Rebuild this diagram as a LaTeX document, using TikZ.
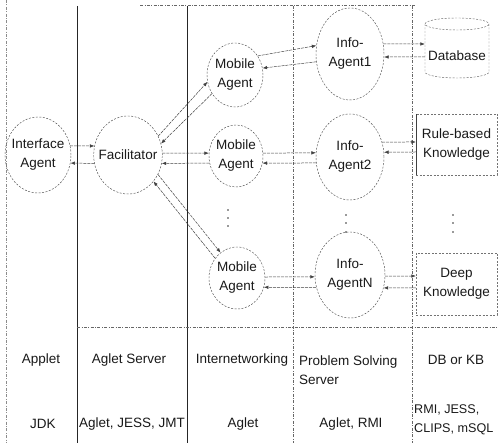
\documentclass[tikz,border=0pt]{standalone}
\usepackage{fontspec}
\setmainfont{Liberation Sans}
\usetikzlibrary{shapes.geometric,arrows.meta,calc}
\begin{document}
\begin{tikzpicture}[x=1pt,y=1pt,
  every node/.style={font=\fontsize{13.5}{19}\selectfont, text=black!90},
  agent/.style={ellipse, draw=black!70, line width=0.45pt, dash pattern=on 2pt off 1.5pt, inner xsep=-5pt, inner ysep=0pt, align=center},
  kbox/.style={rectangle, draw=black!55, line width=0.45pt, dash pattern=on 2pt off 1.5pt, inner sep=0pt, align=center, minimum width=81pt},
  conn/.style={-{Latex[length=4.5pt,width=3.5pt]}, draw=black!75, line width=0.5pt, dash pattern=on 3pt off 1pt},
  sepline/.style={draw=black!85, line width=0.5pt},
  sepdash/.style={draw=black!60, line width=0.5pt, dash pattern=on 3pt off 1.5pt on 0.8pt off 1.5pt},
  lbl/.style={align=center, inner sep=0pt},
  dbline/.style={draw=black!60, line width=0.45pt, dash pattern=on 2pt off 1.5pt}]
\useasboundingbox (0,0) rectangle (498,443);

% frame lines
\draw[sepdash, draw=black!45] (6,443) -- (6,0);
\draw[sepdash] (140,438) -- (415,438);
\draw[sepline] (77,437) -- (77,0);
\draw[sepline] (187,437) -- (187,0);
\draw[sepdash] (293,437) -- (293,0);
\draw[sepdash] (412,437) -- (412,0);
\draw[sepdash] (77,116) -- (498,116);

% agents
\node[agent, minimum width=66pt, minimum height=76pt] (ia) at (38,288) {Interface\\Agent};
\node[agent, minimum width=68pt, minimum height=78pt] (fac) at (128,288) {Facilitator};
\node[agent, minimum width=56pt, minimum height=64pt] (m1) at (235,368) {Mobile\\Agent};
\node[agent, minimum width=54pt, minimum height=62pt] (m2) at (236,287) {Mobile\\Agent};
\node[agent, minimum width=56pt, minimum height=62pt] (mN) at (237,165) {Mobile\\Agent};
\node[agent, minimum width=68pt, minimum height=92pt] (i1) at (350,389) {Info-\\Agent1};
\node[agent, minimum width=68pt, minimum height=86pt] (i2) at (350,286) {Info-\\Agent2};
\node[agent, minimum width=70pt, minimum height=86pt] (iN) at (350,168) {Info-\\AgentN};

% database cylinder
\node[lbl, minimum width=64pt, minimum height=38pt] (db) at (457,387) {Database};
\draw[dbline] ($(db.center)+(-32,32)$) -- ($(db.center)+(-32,-16)$)
  arc[start angle=180, end angle=360, x radius=32, y radius=6]
  -- ($(db.center)+(32,32)$)
  arc[start angle=0, end angle=360, x radius=32, y radius=6];

% knowledge boxes
\node[kbox, minimum height=61pt] (rule) at (456.5,298.5) {Rule-based\\Knowledge};
\draw[sepline, draw=black!75] (rule.north west) -- (rule.south west);
\node[kbox, minimum height=62pt] (deep) at (456.5,159) {Deep\\Knowledge};

% vertical dots
\foreach \px in {228} \foreach \py in {233,225,217} \fill[black!80] (\px,\py) circle (0.9pt);
\foreach \px in {346,453} \foreach \py in {228,220,211} \fill[black!80] (\px,\py) circle (0.9pt);

% connectors
\draw[conn] (ia.16) -- (fac.165);
\draw[conn] (fac.194) -- (ia.346);
\draw[conn] (fac.32) -- (m1.194);
\draw[conn] (m1.219) -- (fac.19);
\draw[conn] (fac.3) -- (m2.174);
\draw[conn] (m2.195) -- (fac.346);
\draw[conn] (mN.138) -- (fac.314);
\draw[conn] (fac.327) -- (mN.123);
\draw[conn] (m1.40) -- (i1.166);
\draw[conn] (i1.193) -- (m1.14);
\draw[conn] (m2.6) -- (i2.173);
\draw[conn] (i2.190) -- (m2.345);
\draw[conn] (mN.2) -- (iN.183);
\draw[conn] (iN.200) -- (mN.341);
\draw[conn] (i1.17) -- ([yshift=12pt]db.west);
\draw[conn] ([yshift=-1pt]db.west) -- (i1.355);
\draw[conn] (i2.25) -- ([yshift=2.5pt]rule.west);
\draw[conn] ([yshift=-7.5pt]rule.west) -- (i2.8);
\draw[conn] (iN.358) -- ([yshift=8pt]deep.west);
\draw[conn] ([yshift=-4pt]deep.west) -- (iN.339);

% bottom labels
\node[lbl] (t1a) at (41,83) {Applet};
\node[lbl] (t1b) at (129,83) {Aglet Server};
\node[lbl] (t1c) at (242,83) {Internetworking};
\node[lbl, align=left, anchor=west] (t1d) at (299,73) {Problem Solving\\Server};
\node[lbl] (t1e) at (456,83) {DB or KB};
\node[lbl] (t2a) at (43,19) {JDK};
\node[lbl] (t2b) at (132,19) {Aglet, JESS, JMT};
\node[lbl] (t2c) at (243,19) {Aglet};
\node[lbl] (t2d) at (351,19) {Aglet, RMI};
\node[lbl, align=left, anchor=west, font=\fontsize{12.6}{19}\selectfont] (t2e) at (414,23) {RMI, JESS,\\CLIPS, mSQL};
\end{tikzpicture}
\end{document}
